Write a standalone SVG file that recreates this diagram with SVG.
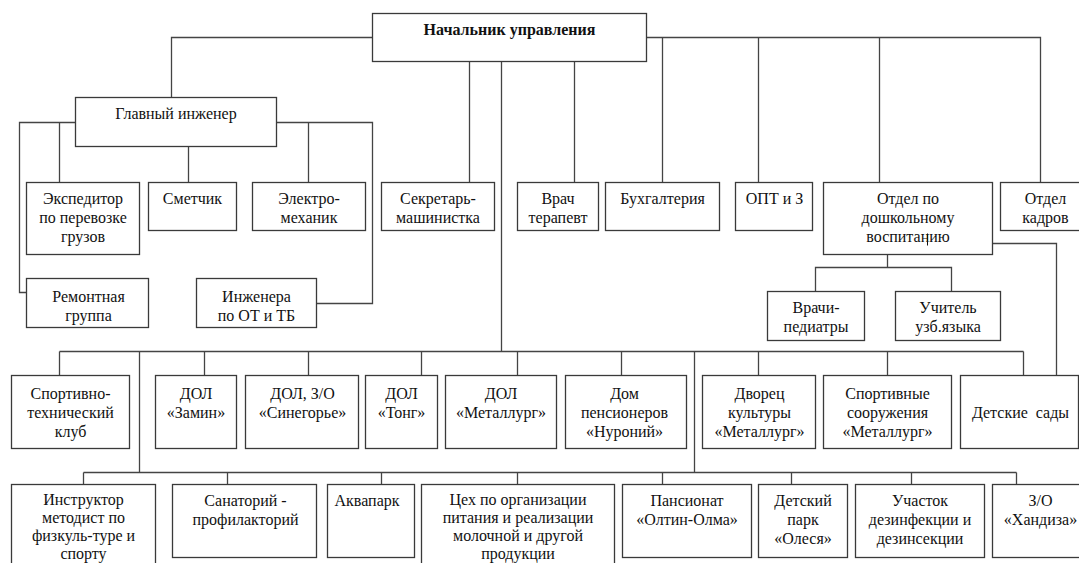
<svg xmlns="http://www.w3.org/2000/svg" width="1079" height="563" viewBox="0 0 1079 563">
<style>
rect.b{fill:#fff;stroke:#3a3a3a;stroke-width:1.3}
.c path,.c line{fill:none;stroke:#444;stroke-width:1.3}
.t text{font-size:16px;fill:#111;text-anchor:middle}
text.bold{font-weight:bold}
</style>
<rect width="1079" height="563" fill="#fff"/>
<g transform="translate(0.5,0.5)" class="t" font-family="'Liberation Serif', 'DejaVu Serif', serif">
<g class="c" id="connectors">
<path d="M171,97 V37 H372"/>
<path d="M646,37 H1040 V182"/>
<line x1="662" y1="37" x2="662" y2="182"/>
<line x1="758" y1="37" x2="758" y2="182"/>
<line x1="879" y1="37" x2="879" y2="182"/>
<line x1="469" y1="61" x2="469" y2="182"/>
<line x1="574" y1="61" x2="574" y2="182"/>
<line x1="501" y1="61" x2="501" y2="351"/>
<path d="M75,122 H19 V292 H26"/>
<line x1="59" y1="122" x2="59" y2="182"/>
<line x1="188" y1="146" x2="188" y2="182"/>
<path d="M276,122 H372 V303 H316"/>
<line x1="308" y1="122" x2="308" y2="182"/>
<line x1="887" y1="254" x2="887" y2="267"/>
<path d="M815,291 V267 H951 V291"/>
<path d="M992,243 H1056 V375"/>
<line x1="59" y1="351" x2="1023" y2="351"/>
<line x1="59" y1="351" x2="59" y2="375"/>
<line x1="204" y1="351" x2="204" y2="375"/>
<line x1="308" y1="351" x2="308" y2="375"/>
<line x1="421" y1="351" x2="421" y2="375"/>
<line x1="517" y1="351" x2="517" y2="375"/>
<line x1="621" y1="351" x2="621" y2="375"/>
<line x1="758" y1="351" x2="758" y2="375"/>
<line x1="887" y1="351" x2="887" y2="375"/>
<line x1="1023" y1="351" x2="1023" y2="375"/>
<line x1="139" y1="351" x2="139" y2="472"/>
<line x1="694" y1="351" x2="694" y2="472"/>
<line x1="83" y1="472" x2="1016" y2="472"/>
<line x1="83" y1="472" x2="83" y2="484"/>
<line x1="227" y1="472" x2="227" y2="484"/>
<line x1="381" y1="472" x2="381" y2="484"/>
<line x1="517" y1="472" x2="517" y2="484"/>
<line x1="662" y1="472" x2="662" y2="484"/>
<line x1="791" y1="472" x2="791" y2="484"/>
<line x1="911" y1="472" x2="911" y2="484"/>
<line x1="1016" y1="472" x2="1016" y2="484"/>
</g>

<g id="head"><rect class="b" x="372" y="13" width="274" height="48"/><text class="bold" x="509" y="34">Начальник управления</text></g>
<g id="chief-engineer"><rect class="b" x="75" y="97" width="201" height="49"/><text x="175.5" y="118">Главный инженер</text></g>

<g id="expeditor"><rect class="b" x="26" y="182" width="113" height="72"/><text x="82.5" y="203">Экспедитор</text><text x="82.5" y="222">по перевозке</text><text x="82.5" y="241">грузов</text></g>
<g id="smetchik"><rect class="b" x="148" y="182" width="88" height="48"/><text x="192" y="203">Сметчик</text></g>
<g id="electro"><rect class="b" x="252" y="182" width="113" height="48"/><text x="308.5" y="203">Электро-</text><text x="308.5" y="222">механик</text></g>
<g id="secretary"><rect class="b" x="381" y="182" width="113" height="48"/><text x="437.5" y="203">Секретарь-</text><text x="437.5" y="222">машинистка</text></g>
<g id="doctor"><rect class="b" x="517" y="182" width="81" height="48"/><text x="557.5" y="203">Врач</text><text x="557.5" y="222">терапевт</text></g>
<g id="accounting"><rect class="b" x="605" y="182" width="114" height="48"/><text x="662" y="203">Бухгалтерия</text></g>
<g id="opt"><rect class="b" x="735" y="182" width="77" height="48"/><text x="774" y="203">ОПТ и З</text></g>
<g id="preschool"><rect class="b" x="823" y="182" width="169" height="72"/><text x="907.5" y="203">Отдел по</text><text x="907.5" y="222">дошкольному</text><text x="907.5" y="241">воспитанию</text><line x1="927" y1="233" x2="927" y2="245" stroke="#111" stroke-width="1"/></g>
<g id="hr"><rect class="b" x="1000" y="182" width="92" height="48"/><text x="1045" y="203">Отдел</text><text x="1045" y="222">кадров</text></g>

<g id="repair"><rect class="b" x="26" y="278" width="122" height="49"/><text x="88" y="301">Ремонтная</text><text x="88" y="320">группа</text></g>
<g id="safety"><rect class="b" x="196" y="278" width="120" height="49"/><text x="256" y="301">Инженера</text><text x="256" y="320">по ОТ и ТБ</text></g>
<g id="pediatr"><rect class="b" x="767" y="291" width="97" height="49"/><text x="815.5" y="312">Врачи-</text><text x="815.5" y="331">педиатры</text></g>
<g id="teacher"><rect class="b" x="895" y="291" width="105" height="49"/><text x="947.5" y="312">Учитель</text><text x="947.5" y="331">узб.языка</text></g>

<g id="sport-tech"><rect class="b" x="11" y="375" width="118" height="73"/><text x="70" y="398">Спортивно-</text><text x="70" y="417">технический</text><text x="70" y="436">клуб</text></g>
<g id="dol-zamin"><rect class="b" x="155" y="375" width="81" height="73"/><text x="195.5" y="398">ДОЛ</text><text x="195.5" y="417">«Замин»</text></g>
<g id="dol-sinegorye"><rect class="b" x="245" y="375" width="113" height="73"/><text x="302" y="398">ДОЛ, З/О</text><text x="302" y="417">«Синегорье»</text></g>
<g id="dol-tong"><rect class="b" x="365" y="375" width="72" height="73"/><text x="401" y="398">ДОЛ</text><text x="401" y="417">«Тонг»</text></g>
<g id="dol-metallurg"><rect class="b" x="445" y="375" width="111" height="73"/><text x="500.5" y="398">ДОЛ</text><text x="500.5" y="417">«Металлург»</text></g>
<g id="pensioners"><rect class="b" x="565" y="375" width="121" height="73"/><text x="624" y="398">Дом</text><text x="624" y="417">пенсионеров</text><text x="624" y="436">«Нуроний»</text></g>
<g id="palace"><rect class="b" x="702" y="375" width="113" height="73"/><text x="759" y="398">Дворец</text><text x="759" y="417">культуры</text><text x="759" y="436">«Металлург»</text></g>
<g id="sport-facilities"><rect class="b" x="823" y="375" width="128" height="73"/><text x="887" y="398">Спортивные</text><text x="887" y="417">сооружения</text><text x="887" y="436">«Металлург»</text></g>
<g id="kindergartens"><rect class="b" x="960" y="375" width="118" height="73"/><text x="1020" y="417" xml:space="preserve">Детские  сады</text></g>

<g id="instructor"><rect class="b" x="11" y="484" width="144" height="90"/><text x="83" y="504">Инструктор</text><text x="83" y="522">методист по</text><text x="83" y="540">физкуль-туре и</text><text x="83" y="558">спорту</text></g>
<g id="sanatorium"><rect class="b" x="172" y="484" width="144" height="73"/><text x="245" y="505">Санаторий -</text><text x="245" y="524">профилакторий</text></g>
<g id="aquapark"><rect class="b" x="327" y="484" width="87" height="73"/><text x="366.5" y="505">Аквапарк</text></g>
<g id="catering"><rect class="b" x="421" y="484" width="193" height="90"/><text x="517.5" y="504">Цех по организации</text><text x="517.5" y="522">питания и реализации</text><text x="517.5" y="540">молочной и другой</text><text x="517.5" y="558">продукции</text></g>
<g id="pension"><rect class="b" x="622" y="484" width="129" height="73"/><text x="686.5" y="505">Пансионат</text><text x="686.5" y="524">«Олтин-Олма»</text></g>
<g id="park"><rect class="b" x="758" y="484" width="89" height="73"/><text x="802.5" y="505">Детский</text><text x="802.5" y="524">парк</text><text x="802.5" y="543">«Олеся»</text></g>
<g id="disinfection"><rect class="b" x="855" y="484" width="129" height="73"/><text x="919.5" y="505">Участок</text><text x="919.5" y="524">дезинфекции и</text><text x="919.5" y="543">дезинсекции</text></g>
<g id="khandiza"><rect class="b" x="992" y="484" width="98" height="73"/><text x="1040" y="505">З/О</text><text x="1040" y="524">«Хандиза»</text></g>
</g>
</svg>
